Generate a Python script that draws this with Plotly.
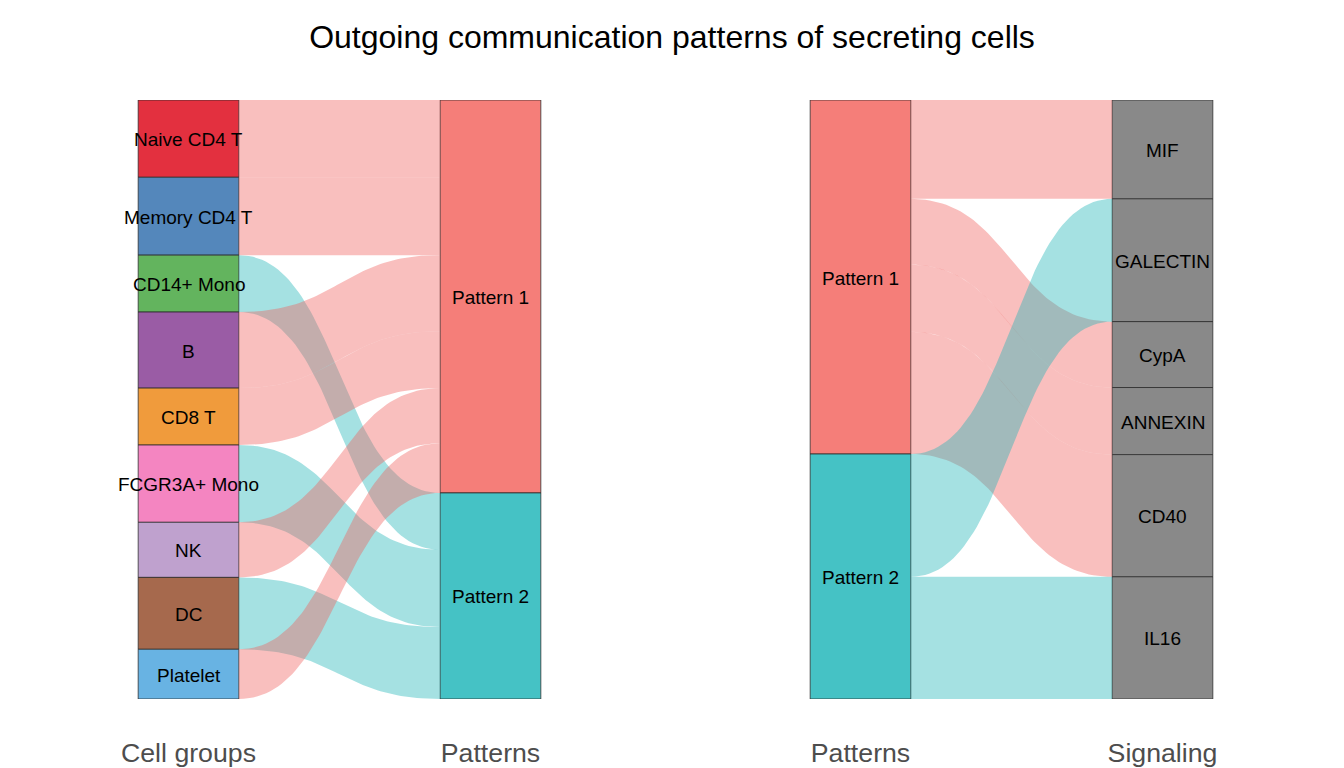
import plotly.graph_objects as go

# ---------------- data ----------------
cell_groups = ["Naive CD4 T", "Memory CD4 T", "CD14+ Mono", "B", "CD8 T",
               "FCGR3A+ Mono", "NK", "DC", "Platelet"]
cell_values = [12.9, 13.0, 9.5, 12.7, 9.5, 12.9, 9.2, 12.0, 8.3]
cell_pattern = ["Pattern 1", "Pattern 1", "Pattern 2", "Pattern 1", "Pattern 1",
                "Pattern 2", "Pattern 1", "Pattern 2", "Pattern 1"]
cell_colors = ["#E3303F", "#5487BB", "#63B45E", "#9A5CA5", "#F09B3C",
               "#F485C1", "#BFA1CE", "#A6694D", "#68B3E3"]

patterns = ["Pattern 1", "Pattern 2"]
pattern_colors = ["#F57E79", "#45C2C5"]
flow_colors = ["rgba(240,95,93,0.4)", "rgba(30,180,182,0.4)"]

signaling = ["MIF", "GALECTIN", "CypA", "ANNEXIN", "CD40", "IL16"]
signaling_values = [16.5, 20.5, 11.0, 11.2, 20.4, 20.4]
signaling_pattern = ["Pattern 1", "Pattern 2", "Pattern 1", "Pattern 1",
                     "Pattern 1", "Pattern 2"]
signaling_color = "#898989"

axis_labels_left = ["Cell groups", "Patterns"]
axis_labels_right = ["Patterns", "Signaling"]
title_text = "Outgoing communication patterns of secreting cells"

FONT = "Liberation Sans, Arial, Helvetica, sans-serif"
W, H = 1344, 768
STRAT_W = 1 / 3
LABEL_SIZE = 19
BORDER = dict(color="rgba(40,40,40,0.75)", width=1)


def cumstarts(vals):
    s, out = 0.0, []
    for v in vals:
        out.append(s)
        s += v
    return out


def flow_poly(x0, x1, y0t, y0b, y1t, y1b, n=60):
    xm = (x0 + x1) / 2
    xs_top, ys_top, ys_bot = [], [], []
    for i in range(n + 1):
        s = i / n
        a, b, c, d = (1 - s) ** 3, 3 * (1 - s) ** 2 * s, 3 * (1 - s) * s ** 2, s ** 3
        xs_top.append(a * x0 + (b + c) * xm + d * x1)
        ys_top.append((a + b) * y0t + (c + d) * y1t)
        ys_bot.append((a + b) * y0b + (c + d) * y1b)
    xs_bot = xs_top[::-1]
    ys_bot = ys_bot[::-1]
    return xs_top + xs_bot + [xs_top[0]], ys_top + ys_bot + [ys_top[0]]


def add_flow(fig, xs, ys, color, xa, ya):
    fig.add_trace(go.Scatter(x=xs, y=ys, mode="lines", fill="toself",
                             fillcolor=color, line=dict(width=0), hoverinfo="skip",
                             showlegend=False, xaxis=xa, yaxis=ya))


def add_stratum(fig, xpos, vals, starts, colors, names, xa, ya):
    fig.add_trace(go.Bar(x=[xpos] * len(vals), y=vals, base=starts, width=STRAT_W,
                         marker=dict(color=colors, line=BORDER),
                         hoverinfo="skip", showlegend=False, xaxis=xa, yaxis=ya))
    for nm, s, v in zip(names, starts, vals):
        fig.add_annotation(x=xpos, y=s + v / 2, xref=xa, yref=ya, text=nm,
                           showarrow=False, xanchor="center", yanchor="middle",
                           yshift=-1,
                           font=dict(family=FONT, size=LABEL_SIZE, color="black"))


fig = go.Figure()
x_left_edge = 1 + STRAT_W / 2
x_right_edge = 2 - STRAT_W / 2

# ---------- left panel: cell groups -> patterns ----------
cg_start = cumstarts(cell_values)
pat_tot_l = [sum(v for v, p in zip(cell_values, cell_pattern) if p == pt) for pt in patterns]
pat_start_l = cumstarts(pat_tot_l)
pat_cursor = dict(zip(patterns, pat_start_l))

for name, v, p, s0 in zip(cell_groups, cell_values, cell_pattern, cg_start):
    s1 = pat_cursor[p]
    pat_cursor[p] += v
    xs, ys = flow_poly(x_left_edge, x_right_edge, s0, s0 + v, s1, s1 + v)
    add_flow(fig, xs, ys, flow_colors[patterns.index(p)], "x", "y")

add_stratum(fig, 1, cell_values, cg_start, cell_colors, cell_groups, "x", "y")
add_stratum(fig, 2, pat_tot_l, pat_start_l, pattern_colors, patterns, "x", "y")

# ---------- right panel: patterns -> signaling ----------
sg_start = cumstarts(signaling_values)
pat_tot_r = [sum(v for v, p in zip(signaling_values, signaling_pattern) if p == pt) for pt in patterns]
pat_start_r = cumstarts(pat_tot_r)
pat_cursor = dict(zip(patterns, pat_start_r))

flows_r = []
for name, v, p, s1 in zip(signaling, signaling_values, signaling_pattern, sg_start):
    s0 = pat_cursor[p]
    pat_cursor[p] += v
    flows_r.append((p, s0, s1, v))
for pt in patterns:  # drawn in order of the left axis (patterns)
    for p, s0, s1, v in flows_r:
        if p == pt:
            xs, ys = flow_poly(x_left_edge, x_right_edge, s0, s0 + v, s1, s1 + v)
            add_flow(fig, xs, ys, flow_colors[patterns.index(p)], "x2", "y2")

add_stratum(fig, 1, pat_tot_r, pat_start_r, pattern_colors, patterns, "x2", "y2")
add_stratum(fig, 2, signaling_values, sg_start, [signaling_color] * len(signaling),
            signaling, "x2", "y2")

# ---------- layout ----------
y_dom = [(H - 699) / H, (H - 100) / H]
common_x = dict(range=[0.5, 2.5], showgrid=False, zeroline=False, showline=False,
                tickmode="array", tickvals=[1, 2], ticks="outside", ticklen=30,
                tickcolor="rgba(0,0,0,0)", automargin=False,
                tickfont=dict(family=FONT, size=26.7, color="#4D4D4D"), fixedrange=True)
common_y = dict(range=[100, 0], domain=y_dom, showgrid=False, zeroline=False,
                showline=False, showticklabels=False, ticks="", automargin=False,
                fixedrange=True)

fig.update_layout(
    width=W, height=H,
    margin=dict(l=0, r=0, t=0, b=0, autoexpand=False),
    paper_bgcolor="white", plot_bgcolor="white",
    barmode="overlay",
    showlegend=False,
    title=dict(text=title_text, x=672 / W, xanchor="center", y=1 - 37 / H,
               yanchor="middle", font=dict(family=FONT, size=32, color="black")),
    xaxis=dict(domain=[37.5 / W, 641.5 / W], anchor="y", ticktext=axis_labels_left, **common_x),
    yaxis=dict(anchor="x", **common_y),
    xaxis2=dict(domain=[709.5 / W, 1313.5 / W], anchor="y2", ticktext=axis_labels_right, **common_x),
    yaxis2=dict(anchor="x2", **common_y),
)

fig.write_html("out.html")
